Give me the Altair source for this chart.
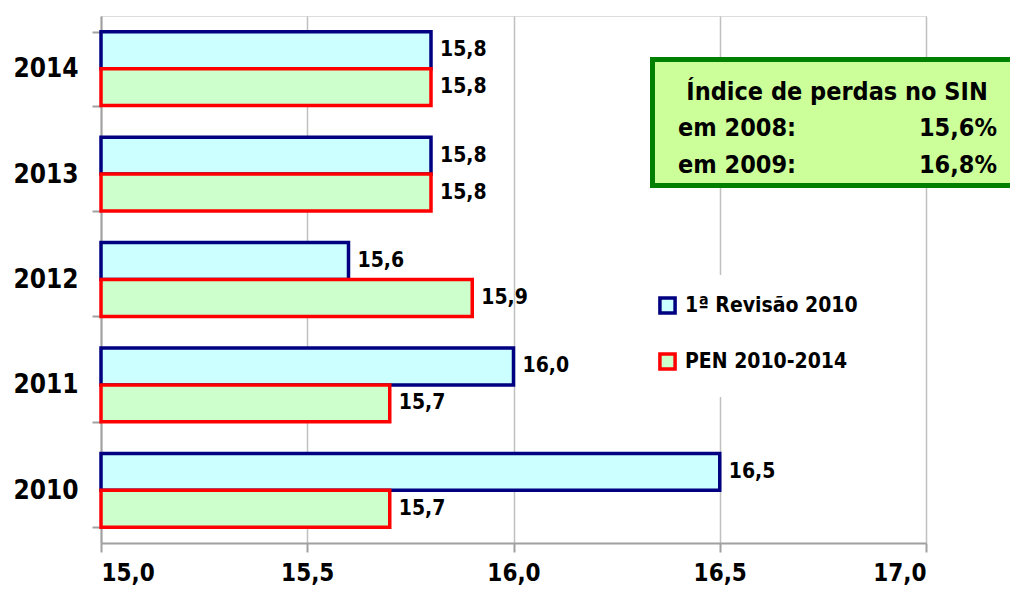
import altair as alt
import pandas as pd

years = ["2014", "2013", "2012", "2011", "2010"]
series_names = ["1ª Revisão 2010", "PEN 2010-2014"]
revisao = [15.8, 15.8, 15.6, 16.0, 16.5]
pen = [15.8, 15.8, 15.9, 15.7, 15.7]
x_ticks = [15.0, 15.5, 16.0, 16.5, 17.0]
fills = ["#CCFFFF", "#CCFFCC"]
strokes = ["#000080", "#FF0000"]
box_lines = ["Índice de perdas no SIN", "em 2008:", "em 2009:"]
box_values = ["15,6%", "16,8%"]

FONT = "DejaVu Sans Condensed, Liberation Sans Narrow, DejaVu Sans"

rows = []
for i, y in enumerate(years):
    rows.append({"year": y, "series": series_names[0], "value": revisao[i], "base": 15.0})
    rows.append({"year": y, "series": series_names[1], "value": pen[i], "base": 15.0})
df = pd.DataFrame(rows)

W, H = 825, 527

yenc = alt.Y("year:N", sort=years, title=None,
             scale=alt.Scale(paddingInner=0.3, paddingOuter=0.15),
             axis=alt.Axis(labelFontSize=26, labelFontWeight="bold", labelColor="black",
                           labelFont=FONT, tickBand="extent", tickSize=9, tickColor="#A0A0A0",
                           tickWidth=2, domainColor="#A0A0A0", domainWidth=2, labelPadding=14,
                           grid=False))
yoff = alt.YOffset("series:N", sort=series_names, scale=alt.Scale(paddingInner=0, paddingOuter=0))
xscale = alt.Scale(domain=[15, 17], zero=False, nice=False)

base = alt.Chart(df)

bars = base.mark_bar(strokeWidth=3.5, strokeJoin="miter").encode(
    y=yenc,
    yOffset=yoff,
    x=alt.X("value:Q", scale=xscale, title=None,
            axis=alt.Axis(values=x_ticks,
                          labelExpr="replace(format(datum.value, '.1f'), '.', ',')",
                          labelFontSize=24, labelFontWeight="bold", labelColor="black",
                          labelFont=FONT, tickSize=9, tickColor="#A0A0A0", tickWidth=2,
                          domainColor="#A0A0A0", domainWidth=2, labelPadding=9,
                          grid=True, gridColor="#C0C0C0", gridWidth=1.5)),
    x2="base:Q",
    fill=alt.Fill("series:N", sort=series_names,
                  scale=alt.Scale(domain=series_names, range=fills), title=None,
                  legend=alt.Legend(orient="none", legendX=536, legendY=259,
                                    symbolType="square", symbolSize=230, symbolStrokeWidth=3.5,
                                    labelFontSize=21, labelFontWeight="bold", labelFont=FONT,
                                    labelColor="black", rowPadding=25, labelOffset=7,
                                    labelLimit=400, padding=20, fillColor="white")),
    stroke=alt.Stroke("series:N", sort=series_names,
                      scale=alt.Scale(domain=series_names, range=strokes), title=None),
)

labels = base.mark_text(align="left", baseline="middle", dx=9, fontSize=21,
                        fontWeight="bold", font=FONT, color="black").transform_calculate(
    label="replace(format(datum.value, '.1f'), '.', ',')"
).encode(
    y=alt.Y("year:N", sort=years),
    yOffset=alt.YOffset("series:N", sort=series_names),
    x=alt.X("value:Q", scale=xscale),
    text="label:N",
)

box = alt.Chart(pd.DataFrame({"a": [0]})).mark_rect(
    fill="#CCFF99", stroke="#008000", strokeWidth=5
).encode(x=alt.value(551.5), x2=alt.value(935), y=alt.value(43.5), y2=alt.value(169.5))

title_txt = alt.Chart(pd.DataFrame({"t": [box_lines[0]]})).mark_text(
    align="center", baseline="alphabetic", fontSize=25, fontWeight="bold", font=FONT, color="black"
).encode(x=alt.value(736), y=alt.value(84), text="t:N")

left_txt = alt.Chart(pd.DataFrame({"t": box_lines[1:], "yy": [120, 157]})).mark_text(
    align="left", baseline="alphabetic", fontSize=25, fontWeight="bold", font=FONT, color="black"
).encode(x=alt.value(577), y=alt.Y("yy:Q", scale=None), text="t:N")

right_txt = alt.Chart(pd.DataFrame({"t": box_values, "yy": [120, 157]})).mark_text(
    align="right", baseline="alphabetic", fontSize=25, fontWeight="bold", font=FONT, color="black"
).encode(x=alt.value(896), y=alt.Y("yy:Q", scale=None), text="t:N")

chart = alt.layer(bars, labels, box, title_txt, left_txt, right_txt).properties(
    width=W, height=H,
    autosize=alt.AutoSizeParams(type="none"),
    padding={"left": 93, "top": 8, "right": 84, "bottom": 47},
).configure_view(stroke="#A0A0A0", strokeWidth=2).configure(background="white")

chart.save("out.html", embed_options={"renderer": "svg", "actions": False})
